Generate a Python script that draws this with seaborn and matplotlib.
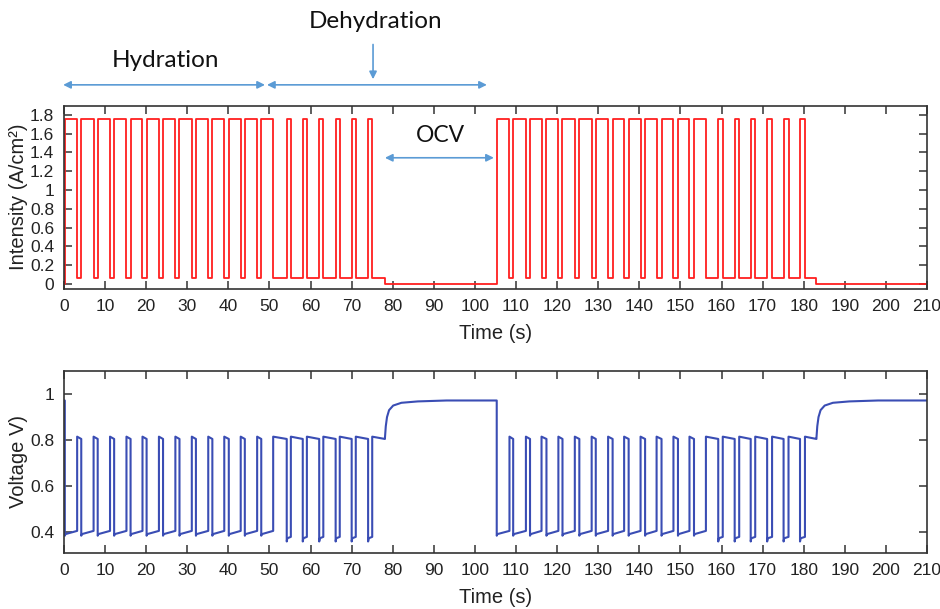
import pandas as pd
import seaborn as sns
import matplotlib.pyplot as plt

# Tiempos de conmutación (s)
on_hyd1 = [0.2, 4.2, 8.2, 12.2, 16.2, 20.1, 24.1, 28.1, 32.1, 36.1, 40.1, 44.0, 48.0]
off_hyd1 = [3.2, 7.2, 11.2, 15.2, 19.1, 23.1, 27.1, 31.1, 35.1, 39.0, 43.0, 47.0, 50.9]
on_deh1 = [54.2, 58.1, 62.1, 66.1, 70.0, 74.0]
off_deh1 = [55.2, 59.1, 63.1, 67.1, 71.0, 75.0]
on_hyd2 = [105.3, 109.3, 113.4, 117.4, 121.3, 125.4, 129.4, 133.5, 137.4, 141.4, 145.4, 149.4, 153.3]
off_hyd2 = [108.4, 112.4, 116.2, 120.3, 124.3, 128.4, 132.4, 136.3, 140.3, 144.2, 148.3, 152.2, 156.2]
on_deh2 = [159.2, 163.2, 167.1, 171.1, 175.1, 179.1]
off_deh2 = [160.3, 164.3, 168.2, 172.3, 176.3, 180.3]
ocv_start = [78.1, 183.1]
t_end = 210

# Niveles de corriente (A/cm2)
i_high = 1.76
i_low = 0.06
i_ocv = 0.0

# Niveles de voltaje (V)
v_hyd_on = [0.385, 0.392, 0.406]
v_deh_on = [0.360, 0.374, 0.380]
v_off = [0.815, 0.805]
v_ocv_dt = [0, 0.2, 0.5, 1.0, 2.0, 4.0, 8.0, 15.0]
v_ocv = [0.81, 0.86, 0.90, 0.93, 0.95, 0.962, 0.968, 0.972]

x_ticks = list(range(0, 211, 10))
i_ticks = [0, 0.2, 0.4, 0.6, 0.8, 1, 1.2, 1.4, 1.6, 1.8]
i_tick_labels = ["0", "0.2", "0.4", "0.6", "0.8", "1", "1.2", "1.4", "1.6", "1.8"]
v_ticks = [0.4, 0.6, 0.8, 1]
v_tick_labels = ["0.4", "0.6", "0.8", "1"]

# Serie de corriente (escalones)
pulses = [(a, b, v_hyd_on) for a, b in zip(on_hyd1, off_hyd1)]
pulses += [(a, b, v_deh_on) for a, b in zip(on_deh1, off_deh1)]
pulses += [(a, b, v_hyd_on) for a, b in zip(on_hyd2, off_hyd2)]
pulses += [(a, b, v_deh_on) for a, b in zip(on_deh2, off_deh2)]
pulses.sort(key=lambda p: p[0])

ev = [(0.0, i_ocv), (t_end, i_ocv)] + [(s, i_ocv) for s in ocv_start]
for a, b, _ in pulses:
    ev += [(a, i_high), (b, i_low)]
ev.sort()
corriente = pd.DataFrame(ev, columns=["t", "i"])

# Serie de voltaje
t_v, v = [0.0], [v_ocv[-1]]
for k, (a, b, shape) in enumerate(pulses):
    t_v += [a, a, a + 0.15, b]
    v += [v[-1], shape[0], shape[1], shape[2]]
    nxt = pulses[k + 1][0] if k + 1 < len(pulses) else t_end
    ocv = [s for s in ocv_start if b < s < nxt]
    fin = ocv[0] if ocv else nxt
    t_v += [b, fin]
    v += [v_off[0], v_off[1]]
    if ocv:
        t_v += [fin + dt for dt in v_ocv_dt] + [nxt]
        v += v_ocv + [v_ocv[-1]]
voltaje = pd.DataFrame({"t": t_v, "v": v})

sns.set_style("ticks")
plt.rcParams["font.family"] = ["Liberation Sans", "DejaVu Sans"]

fig = plt.figure(figsize=(9.4, 6.09), dpi=100)
ax1 = fig.add_axes([64 / 940, 1 - 289 / 609, 863 / 940, 183.5 / 609])
ax2 = fig.add_axes([64 / 940, 1 - 553 / 609, 863 / 940, 182 / 609])

sns.lineplot(data=corriente, x="t", y="i", ax=ax1, color="#FF1F1F", lw=1.3,
             estimator=None, sort=False, drawstyle="steps-post")
sns.lineplot(data=voltaje, x="t", y="v", ax=ax2, color="#3A4DB4", lw=1.5,
             estimator=None, sort=False)

for ax in (ax1, ax2):
    ax.set_xlim(0, 210)
    ax.set_xticks(x_ticks)
    ax.tick_params(direction="in", top=True, right=True, length=6, width=1.1,
                   labelsize=12.5, pad=7, color="#333333", labelcolor="#222222")
    for s in ax.spines.values():
        s.set_color("#333333")
        s.set_linewidth(1.2)
    ax.set_xlabel("Time (s)", fontsize=14.5, color="#222222")

ax1.set_ylim(-0.055, 1.9)
ax1.set_yticks(i_ticks)
ax1.set_yticklabels(i_tick_labels)
ax1.set_ylabel("Intensity (A/cm²)", fontsize=14.5, color="#222222")
ax1.xaxis.set_label_coords(0.5, -0.19)
ax1.yaxis.set_label_coords(-0.042, 0.5)

ax2.set_ylim(0.31, 1.1)
ax2.set_yticks(v_ticks)
ax2.set_yticklabels(v_tick_labels)
ax2.set_ylabel("Voltage V)", fontsize=14.5, color="#222222")
ax2.xaxis.set_label_coords(0.5, -0.19)
ax2.yaxis.set_label_coords(-0.042, 0.5)

# Anotaciones
flecha = dict(arrowstyle="<|-|>", color="#5B9BD5", lw=1.2, mutation_scale=11,
              shrinkA=0, shrinkB=0)
ax1.annotate("", xy=(48.9, 2.12), xytext=(-0.2, 2.12), arrowprops=flecha,
             annotation_clip=False)
ax1.annotate("", xy=(102.9, 2.12), xytext=(49.4, 2.12), arrowprops=flecha,
             annotation_clip=False)
ax1.annotate("", xy=(75.2, 2.18), xytext=(75.2, 2.55),
             arrowprops=dict(arrowstyle="-|>", color="#5B9BD5", lw=1.2,
                             mutation_scale=11, shrinkA=0, shrinkB=0),
             annotation_clip=False)
ax1.annotate("", xy=(104.6, 1.343), xytext=(78.1, 1.343), arrowprops=flecha)
ax1.text(24.6, 2.38, "Hydration", ha="center", va="center", fontsize=17.5,
         family="Lato", color="#111111", clip_on=False)
ax1.text(75.9, 2.80, "Dehydration", ha="center", va="center", fontsize=17.5,
         family="Lato", color="#111111", clip_on=False)
ax1.text(91.5, 1.58, "OCV", ha="center", va="center", fontsize=16.5,
         family="Lato", color="#111111")

plt.savefig("out.png", dpi=100)
